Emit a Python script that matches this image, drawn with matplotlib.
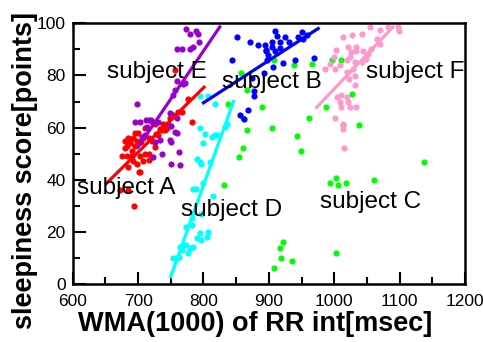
import matplotlib
matplotlib.use("Agg")
import matplotlib.pyplot as plt
from matplotlib.ticker import MultipleLocator

plt.rcParams['font.family'] = ['Liberation Sans', 'DejaVu Sans']

# ---- data ----
a_x = [782,767,754,744,736,726,721,710,700,695,693,685,680,688,695,705,716,721,731,741,710,703,716,690,683,693,698,703,685,694,675,690,702,672,685,708,716,683,680,756,777,761,749,738,733,728,708,698,688,726]
a_y = [62,66,65,60,59,61.5,62,60,58,58,56,56,55,54,53,54.5,56,55,57,59,50,49,47.5,51,49,47,46,43,45,30,49,49,43,36,36,47,50,53,52,82,71,66,63.5,61.5,59.5,57.5,56,55,54.5,52.5]
a_fit_x = [652, 801]
a_fit_y = [38.7, 75.5]

e_x = [773,779,788,791,793,759,767,780,784,769,760,772,757,754,698,749,754,760,695,703,712,720,731,713,706,746,750,756,759,749,734,726,751,762,736,723,751,764,711,716]
e_y = [97.7,95.8,97,95.8,93,90,90,90,91,76.9,77.7,77,74.3,72.4,69,65.6,64.3,63.7,62,62,62.8,62.8,62.2,60.4,56.4,61.5,60.5,58.3,57.8,55.2,55.4,54.5,54.5,50.7,50,48.8,46,45.8,57,62.8]
e_fit_x = [700, 825]
e_fit_y = [52.5, 98.6]

b_x = [852,871,884,894,896,909,913,905,905,917,924,931,917,895,899,909,944,951,958,953,843,897,907,921,940,969,893,874,878,878,856,868,862]
b_y = [94.7,93,91.8,91.8,89.9,96.9,95,93,90.9,92.8,94.7,92.8,90.7,89.2,87.9,89.2,94.7,96.6,95.4,94.1,85.8,85.8,83.2,84.8,86,86.7,80.9,79,73.9,72,65,66.9,63.1]
b_fit_x = [800, 975.5]
b_fit_y = [69.5, 98]

c_x = [867,890,861,867,905,861,855,961,943,949,988,1027,1038,1138,1002,993,1006,1018,1061,922,917,918,936,908,1003,832,837,908,858,938,966,996,1011,1014]
c_y = [74.6,67.9,63.8,59,59.9,52,48.8,63.8,56.8,50.9,67.9,72.8,60.9,46.8,40.8,38.9,37.9,38.9,39.8,16,13.9,9.8,8.9,6,12,37.8,68.9,85.8,80.8,83.9,84.5,85.8,85.8,60.9]

d_x = [795,807,818,795,802,813,818,836,833,800,790,794,797,810,799,784,789,774,782,795,790,805,797,769,774,784,764,777,767,754,759,815,797,782,807,762,779,820]
d_y = [72,72,68.9,60,57.7,56.4,57,61.5,60.2,53.9,47.8,46.8,46,46.8,38.8,36.3,36.3,22,22.6,19.6,17.5,18.1,16.8,14.9,14.9,14.3,14.3,11.7,13,9.8,9.8,33.7,26.8,25.5,20,10.2,13.7,57]
d_fit_x = [750, 846]
d_fit_y = [2.8, 70]

f_x = [1055,1070,1083,1098,1099,1042,1027,1014,1065,1070,1057,1034,1021,1003,1025,1034,1044,1052,1048,1042,1032,1024,1019,999,993,1009,986,1001,1019,1029,1032,1023,1032,1004,1011,1019,1009,1021,1011,1024,1034,1013,1014,1015,1001,1013]
f_y = [98.6,97.3,98.6,98.6,96.9,96,95.6,94.7,93.8,92.2,90.3,90.9,90.9,89.9,89,89.2,89.2,88.4,86.4,85.1,85.1,87,85.8,87,84.5,83.9,82.6,82.4,81.3,82.6,79.8,78.8,76.5,71.7,72.4,71.7,69.8,69.8,67.9,67.9,67.9,61.5,59.6,52,63.8,60.9]
f_fit_x = [973, 1090]
f_fit_y = [67.7, 98.6]

labels = ["subject A", "subject E", "subject B", "subject C", "subject D", "subject F"]
label_x = [607, 652, 829, 978, 765, 1048]
label_y = [34.4, 79.0, 75.3, 29.0, 26.0, 79.0]

x_ticks = [600, 700, 800, 900, 1000, 1100, 1200]
y_ticks = [0, 20, 40, 60, 80, 100]

# ---- figure ----
fig = plt.figure(figsize=(4.83, 3.42), dpi=100)
ax = fig.add_axes([0.1505, 0.1696, 0.8122, 0.7623])

s = 20
ax.scatter(c_x, c_y, s=s, color='#00ff00', linewidths=0, zorder=2)
ax.scatter(a_x, a_y, s=s, color='#ff0000', linewidths=0, zorder=2)
ax.scatter(e_x, e_y, s=s, color='#9900cc', linewidths=0, zorder=2)
ax.scatter(b_x, b_y, s=s, color='#0000ff', linewidths=0, zorder=2)
ax.scatter(d_x, d_y, s=s, color='#00ffff', linewidths=0, zorder=2)
ax.scatter(f_x, f_y, s=s, color='#ff99cc', linewidths=0, zorder=2)

lw = 2.3
ax.plot(a_fit_x, a_fit_y, color='#ff0000', lw=lw, zorder=3)
ax.plot(e_fit_x, e_fit_y, color='#9900cc', lw=lw, zorder=3)
ax.plot(b_fit_x, b_fit_y, color='#0000ff', lw=lw, zorder=3)
ax.plot(d_fit_x, d_fit_y, color='#00ffff', lw=lw, zorder=3)
ax.plot(f_fit_x, f_fit_y, color='#ff99cc', lw=lw, zorder=3)

for t, x, y in zip(labels, label_x, label_y):
    ax.text(x, y, t, fontsize=17.5, ha='left', va='baseline', color='black', zorder=4)

ax.set_xlim(600, 1200)
ax.set_ylim(0, 100)
ax.set_xticks(x_ticks)
ax.set_yticks(y_ticks)
ax.xaxis.set_minor_locator(MultipleLocator(50))
ax.yaxis.set_minor_locator(MultipleLocator(10))
ax.tick_params(which='major', direction='in', length=9, width=1.5, labelsize=12.5,
               top=False, right=False)
ax.tick_params(axis='x', which='major', pad=7)
ax.tick_params(axis='y', which='major', pad=5)
ax.tick_params(which='minor', direction='in', length=5, width=1.5, top=False, right=False)
for sp in ax.spines.values():
    sp.set_linewidth(1.8)

fig.text(255/483, 1 - 324/342, "WMA(1000) of RR int[msec]", fontsize=19.5,
         fontweight='bold', ha='center', va='center')
fig.text(25/483, 1 - 170.5/342, "sleepiness score[points]", fontsize=19.5,
         fontweight='bold', ha='center', va='center', rotation=90)

fig.savefig("out.png", dpi=100)
